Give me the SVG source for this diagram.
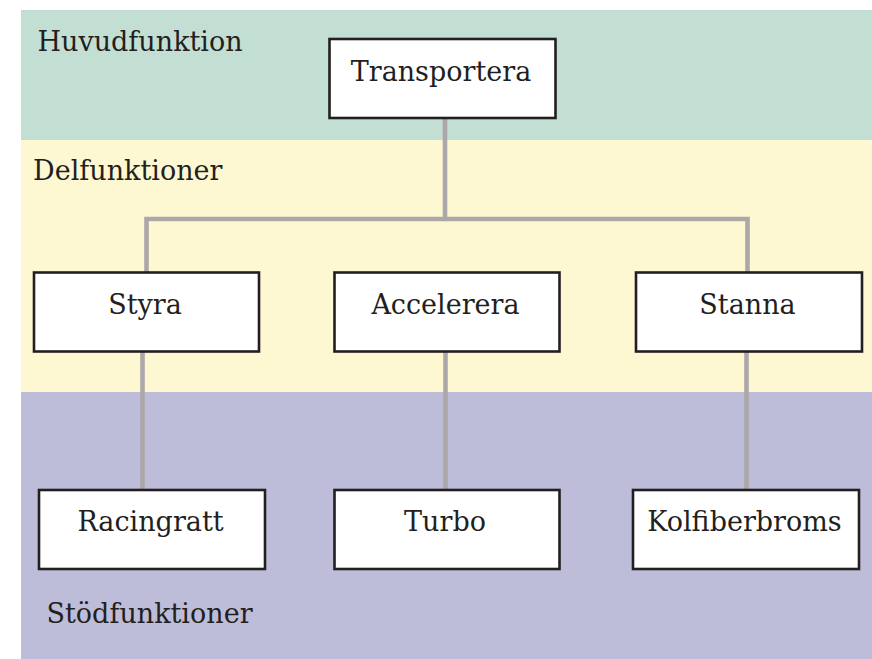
<svg xmlns="http://www.w3.org/2000/svg" width="872" height="659" viewBox="0 0 872 659">
  <style>
    .band-label { font-family: "DejaVu Serif", "Liberation Serif", serif; font-size: 27px; fill: #231f20; }
    .box rect { fill: #ffffff; stroke: #231f20; stroke-width: 2.6; }
    .box text { font-family: "DejaVu Serif", "Liberation Serif", serif; font-size: 27px; fill: #231f20; text-anchor: middle; }
    .conn { fill: none; stroke: #aca7a9; stroke-width: 4.6; stroke-linejoin: miter; stroke-linecap: butt; }
  </style>
  <rect x="0" y="0" width="872" height="659" fill="#ffffff"/>
  <g id="bands">
    <rect x="21" y="10" width="851" height="130" fill="#c3ded2"/>
    <rect x="21" y="140" width="851" height="252" fill="#fef8d2"/>
    <rect x="21" y="392" width="851" height="267" fill="#bebdd9"/>
    <text class="band-label" x="37.5" y="51">Huvudfunktion</text>
    <text class="band-label" x="33" y="180">Delfunktioner</text>
    <text class="band-label" x="46.5" y="623">Stödfunktioner</text>
  </g>
  <g id="connectors">
    <path class="conn" d="M445,118 V219"/>
    <path class="conn" d="M146.5,273 V219 H747.5 V273"/>
    <path class="conn" d="M142.5,351 V490"/>
    <path class="conn" d="M445.5,351 V490"/>
    <path class="conn" d="M746.5,351 V490"/>
  </g>
  <g id="node-transportera" class="box">
    <rect x="329.5" y="39" width="226" height="79"/>
    <text x="441" y="80.5">Transportera</text>
  </g>
  <g id="node-styra" class="box">
    <rect x="34" y="272.5" width="225" height="79"/>
    <text x="145" y="313.5">Styra</text>
  </g>
  <g id="node-accelerera" class="box">
    <rect x="334.5" y="272.5" width="225" height="79"/>
    <text x="445.5" y="313.5">Accelerera</text>
  </g>
  <g id="node-stanna" class="box">
    <rect x="636" y="272.5" width="226" height="79"/>
    <text x="747.5" y="313.5">Stanna</text>
  </g>
  <g id="node-racingratt" class="box">
    <rect x="39" y="490" width="226" height="79"/>
    <text x="150.5" y="530.5">Racingratt</text>
  </g>
  <g id="node-turbo" class="box">
    <rect x="334.5" y="490" width="225" height="79"/>
    <text x="445" y="530.5">Turbo</text>
  </g>
  <g id="node-kolfiberbroms" class="box">
    <rect x="633" y="490" width="226" height="79"/>
    <text x="744.5" y="530.5">Kolfiberbroms</text>
  </g>
</svg>
